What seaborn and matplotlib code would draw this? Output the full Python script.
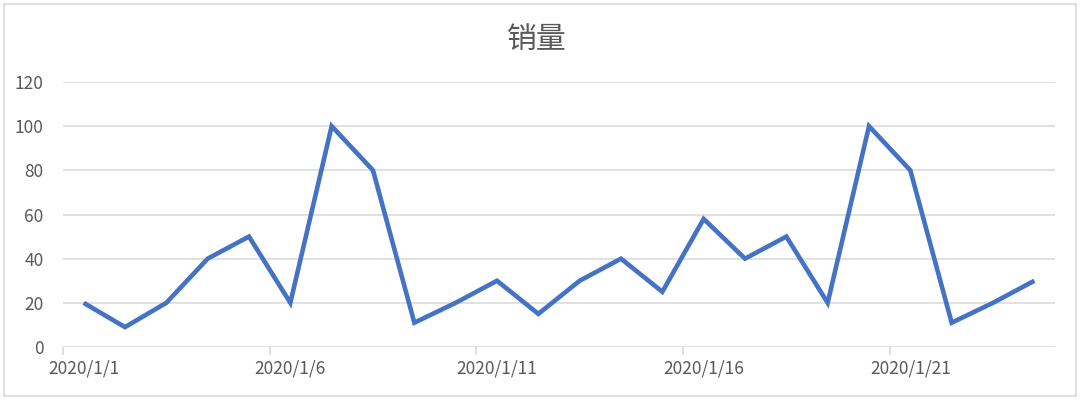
import matplotlib
matplotlib.use("Agg")
import matplotlib.pyplot as plt
import numpy as np
import pandas as pd
import seaborn as sns
from matplotlib.patches import Rectangle

# data
dates = [f"2020/1/{d}" for d in range(1, 25)]
sales = [20, 9, 20, 40, 50, 20, 100, 80, 11, 20, 30, 15,
         30, 40, 25, 58, 40, 50, 20, 100, 80, 11, 20, 30]
label_every = 5
title = "销量"

sns.set_theme(style="white")
plt.rcParams["font.family"] = ["Noto Sans CJK SC", "DejaVu Sans"]

grey_text = "#595959"
grid_col = "#D9D9D9"
blue = "#4472C4"

df = pd.DataFrame({"date": dates, "sales": sales})
df["pos"] = np.arange(len(df)) + 0.5

fig = plt.figure(figsize=(10.8, 4.0), dpi=100)
ax = fig.add_axes([63 / 1080, 1 - 347 / 400, (1055 - 63) / 1080, (347 - 82) / 400])

sns.lineplot(data=df, x="pos", y="sales", ax=ax, color=blue, linewidth=3.3,
             solid_joinstyle="miter", solid_capstyle="butt")

ax.set_xlim(0, len(df))
ax.set_ylim(0, 120)
ax.set_yticks(range(0, 121, 20))
ax.yaxis.grid(True, color=grid_col, linewidth=1.1)
ax.set_axisbelow(True)
for sp in ax.spines.values():
    sp.set_visible(False)

major = df["pos"][::label_every]
ax.set_xticks(major)
ax.set_xticklabels(df["date"][::label_every])
ax.set_xticks(np.arange(0, len(df), label_every), minor=True)
ax.tick_params(axis="x", which="major", length=0, pad=9, labelsize=12.5, labelcolor=grey_text)
ax.tick_params(axis="x", which="minor", length=6, width=1.2, color=grid_col, direction="out", bottom=True)
ax.tick_params(axis="y", length=0, pad=14, labelsize=12.5, labelcolor=grey_text)
ax.set_xlabel("")
ax.set_ylabel("")

fig.text(0.497, 0.902, title, ha="center", va="center", fontsize=21.5, color=grey_text)

fig.patches.append(Rectangle((4 / 1080, 4 / 400), 1072 / 1080, 392 / 400,
                             transform=fig.transFigure, fill=False,
                             edgecolor=grid_col, linewidth=1.2))

fig.savefig("out.png", dpi=100)
